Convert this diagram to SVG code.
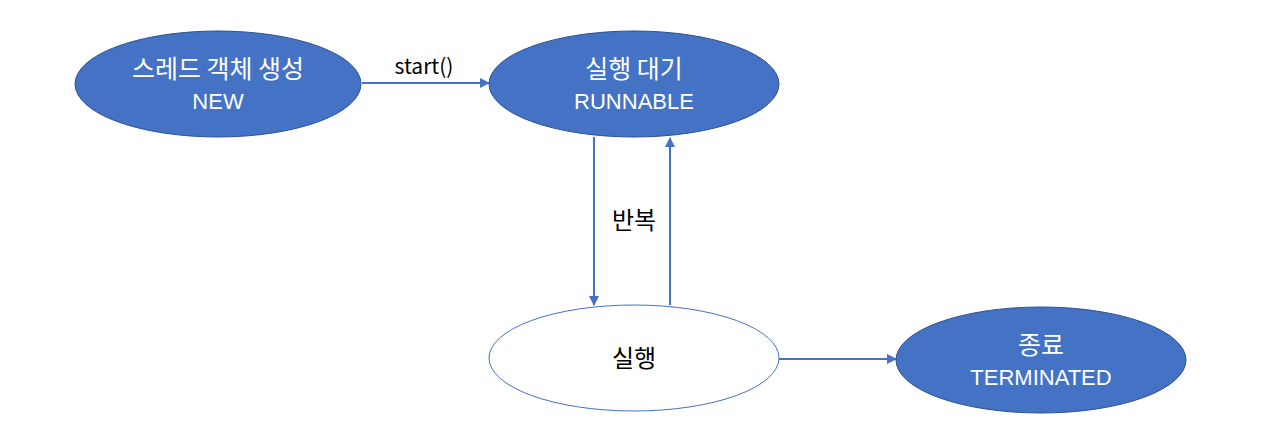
<svg xmlns="http://www.w3.org/2000/svg" width="1261" height="433" viewBox="0 0 1261 433">
<style>
.filled{fill:#4472C4;stroke:#2F528F;stroke-width:1}
.hollow{fill:#FFFFFF;stroke:#4472C4;stroke-width:1}
.ko{font-family:"Noto Sans CJK KR","Noto Sans",sans-serif;font-size:25px;fill:#FFFFFF;text-anchor:middle}
.en{font-family:"Liberation Sans",Arial,sans-serif;font-size:22px;fill:#FFFFFF;text-anchor:middle}
.bt{font-family:"Noto Sans CJK KR","Noto Sans",sans-serif;font-size:24px;fill:#000000;text-anchor:middle}
.edge{stroke:#4472C4;stroke-width:2;fill:none;marker-end:url(#arr)}
</style>
<defs>
<marker id="arr" viewBox="0 0 10 10" refX="9" refY="5" markerWidth="5" markerHeight="5" orient="auto" markerUnits="strokeWidth">
<path d="M0,0 L10,5 L0,10 z" fill="#4472C4"/>
</marker>
</defs>
<rect width="1261" height="433" fill="#FFFFFF"/>
<g id="connectors">
<line class="edge" x1="362" y1="83" x2="489" y2="83"/>
<line class="edge" x1="594" y1="137" x2="594" y2="305"/>
<line class="edge" x1="670" y1="305" x2="670" y2="138"/>
<line class="edge" x1="779" y1="359" x2="896" y2="359"/>
<text class="bt" x="424" y="74" style="font-size:21px">start()</text>
<text class="bt" x="634" y="229">반복</text>
</g>
<g id="node-new">
<ellipse class="filled" cx="218" cy="84" rx="143" ry="53"/>
<text class="ko" x="218" y="78">스레드 객체 생성</text>
<text class="en" x="218" y="109">NEW</text>
</g>
<g id="node-runnable">
<ellipse class="filled" cx="634" cy="84" rx="145" ry="53"/>
<text class="ko" x="634" y="78">실행 대기</text>
<text class="en" x="634" y="109">RUNNABLE</text>
</g>
<g id="node-running">
<ellipse class="hollow" cx="634" cy="358" rx="145" ry="53"/>
<text class="bt" x="634" y="367">실행</text>
</g>
<g id="node-terminated">
<ellipse class="filled" cx="1041" cy="360" rx="145" ry="53"/>
<text class="ko" x="1041" y="354">종료</text>
<text class="en" x="1041" y="385">TERMINATED</text>
</g>
</svg>
